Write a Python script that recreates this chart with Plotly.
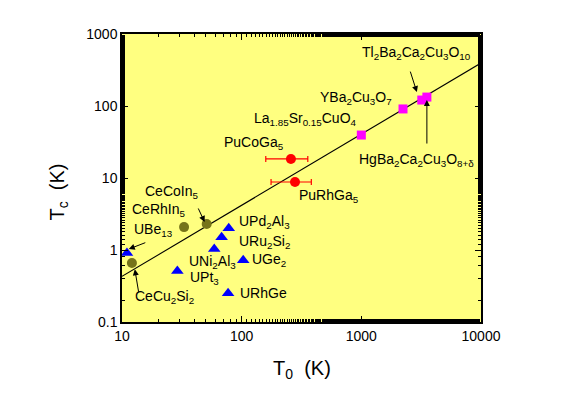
import numpy as np
import plotly.graph_objects as go

# ---- data ----
cuprate_names = ["La<sub>1.85</sub>Sr<sub>0.15</sub>CuO<sub>4</sub>", "YBa<sub>2</sub>Cu<sub>3</sub>O<sub>7</sub>",
                 "Tl<sub>2</sub>Ba<sub>2</sub>Ca<sub>2</sub>Cu<sub>3</sub>O<sub>10</sub>",
                 "HgBa<sub>2</sub>Ca<sub>2</sub>Cu<sub>3</sub>O<sub>8+δ</sub>"]
cuprate_T0 = [1000, 2230, 3200, 3530]
cuprate_Tc = [39.5, 91, 121, 133]

pu_names = ["PuCoGa<sub>5</sub>", "PuRhGa<sub>5</sub>"]
pu_T0 = [258, 279]
pu_Tc = [18.4, 8.8]
pu_T0_err = [99, 103]

ce_names = ["CeCoIn<sub>5</sub>", "CeRhIn<sub>5</sub>", "CeCu<sub>2</sub>Si<sub>2</sub>"]
ce_T0 = [51, 33, 12.1]
ce_Tc = [2.3, 2.08, 0.66]

u_names = ["UBe<sub>13</sub>", "UPd<sub>2</sub>Al<sub>3</sub>", "URu<sub>2</sub>Si<sub>2</sub>",
           "UNi<sub>2</sub>Al<sub>3</sub>", "UGe<sub>2</sub>", "UPt<sub>3</sub>", "URhGe"]
u_T0 = [11, 78, 68, 59, 103, 29, 77]
u_Tc = [0.91, 2.0, 1.5, 1.03, 0.72, 0.51, 0.25]

line_T0 = [10, 10000]
line_Tc = [0.43, 395]

x_tickvals = [10, 100, 1000, 10000]
x_ticktext = ["10", "100", "1000", "10000"]
y_tickvals = [0.1, 1, 10, 100, 1000]
y_ticktext = ["0.1", "1", "10", "100", "1000"]

# ---- label placement (left edge / vertical middle, in data units) ----
label_pos = {
    cuprate_names[0]: (122, 66),
    cuprate_names[1]: (434, 129),
    cuprate_names[2]: (973, 545),
    cuprate_names[3]: (918, 17.8),
    pu_names[0]: (68, 30.6),
    pu_names[1]: (290, 5.6),
    ce_names[0]: (15, 6.4),
    ce_names[1]: (11.7, 3.6),
    ce_names[2]: (12.4, 0.22),
    u_names[0]: (12.1, 1.9),
    u_names[1]: (91, 2.45),
    u_names[2]: (91, 1.29),
    u_names[3]: (35, 0.68),
    u_names[4]: (117, 0.73),
    u_names[5]: (35.6, 0.41),
    u_names[6]: (93, 0.25),
}
# arrows: tip (data), tail offset (px)
arrows = [
    ((2910, 156), -7, -22),
    ((3530, 121), 0, 45),
    ((49, 2.45), -7, -15),
    ((11.4, 1.03), 18, -7),
    ((12.8, 0.54), 4, 24),
]

FONT = "Liberation Sans, Arial, sans-serif"

fig = go.Figure()
fig.add_trace(go.Scatter(x=line_T0, y=line_Tc, mode="lines",
                         line=dict(color="black", width=1.1), showlegend=False))
fig.add_trace(go.Scatter(x=cuprate_T0, y=cuprate_Tc, mode="markers",
                         marker=dict(symbol="square", size=9, color="#ff00ff"), showlegend=False))
fig.add_trace(go.Scatter(x=pu_T0, y=pu_Tc, mode="markers",
                         error_x=dict(type="data", array=pu_T0_err, color="red", thickness=1.2, width=3),
                         marker=dict(symbol="circle", size=10, color="red"), showlegend=False))
fig.add_trace(go.Scatter(x=ce_T0, y=ce_Tc, mode="markers",
                         marker=dict(symbol="circle", size=10, color="#76741a"), showlegend=False))
fig.add_trace(go.Scatter(x=u_T0, y=u_Tc, mode="markers",
                         marker=dict(symbol="triangle-up", size=11, color="#0000ff"), showlegend=False))
# invisible trace that anchors the top/right tick axes
fig.add_trace(go.Scatter(x=line_T0, y=line_Tc, xaxis="x2", yaxis="y2", mode="lines",
                         line=dict(width=0), hoverinfo="skip", showlegend=False, opacity=0))

annotations = []
for name, (lx, ly) in label_pos.items():
    annotations.append(dict(x=np.log10(lx), y=np.log10(ly), xref="x", yref="y", text=name,
                            showarrow=False, xanchor="left", yanchor="middle",
                            font=dict(family=FONT, size=14, color="black")))
for (tx, ty), ax, ay in arrows:
    annotations.append(dict(x=np.log10(tx), y=np.log10(ty), xref="x", yref="y", text="",
                            showarrow=True, ax=ax, ay=ay, arrowhead=2, arrowsize=1.2,
                            arrowwidth=1, arrowcolor="black"))
annotations.append(dict(x=0.5, y=-0.165, xref="paper", yref="paper", text="T<sub>0</sub>  (K)",
                        showarrow=False, xanchor="center", yanchor="middle",
                        font=dict(family=FONT, size=20, color="black")))
annotations.append(dict(x=-0.178, y=0.45, xref="paper", yref="paper", text="T<sub>c</sub>  (K)",
                        showarrow=False, xanchor="center", yanchor="middle", textangle=-90,
                        font=dict(family=FONT, size=20, color="black")))

axis_common = dict(type="log", showgrid=False, zeroline=False, showline=True, linecolor="black",
                   linewidth=1.5, ticks="inside", ticklen=6, tickwidth=1,
                   tickcolor="black",
                   minor=dict(ticks="inside", ticklen=3, tickwidth=1, tickcolor="black", showgrid=False),
                   tickfont=dict(family=FONT, size=14, color="black"))

# the page body adds an 8px offset, so margins are shifted to keep the plot area at 122..481 x 34..322
fig.update_layout(
    width=581, height=397,
    margin=dict(l=114, r=108, t=26, b=83),
    paper_bgcolor="white", plot_bgcolor="#ffff80",
    xaxis=dict(range=[1, 4], tickvals=x_tickvals, ticktext=x_ticktext, **axis_common),
    yaxis=dict(range=[-1, 3], tickvals=y_tickvals, ticktext=y_ticktext, **axis_common),
    xaxis2=dict(range=[1, 4], tickvals=x_tickvals, overlaying="x", side="top",
                showticklabels=False, **axis_common),
    yaxis2=dict(range=[-1, 3], tickvals=y_tickvals, overlaying="y", side="right",
                showticklabels=False, **axis_common),
    annotations=annotations,
    showlegend=False,
)

fig.write_html("out.html")
